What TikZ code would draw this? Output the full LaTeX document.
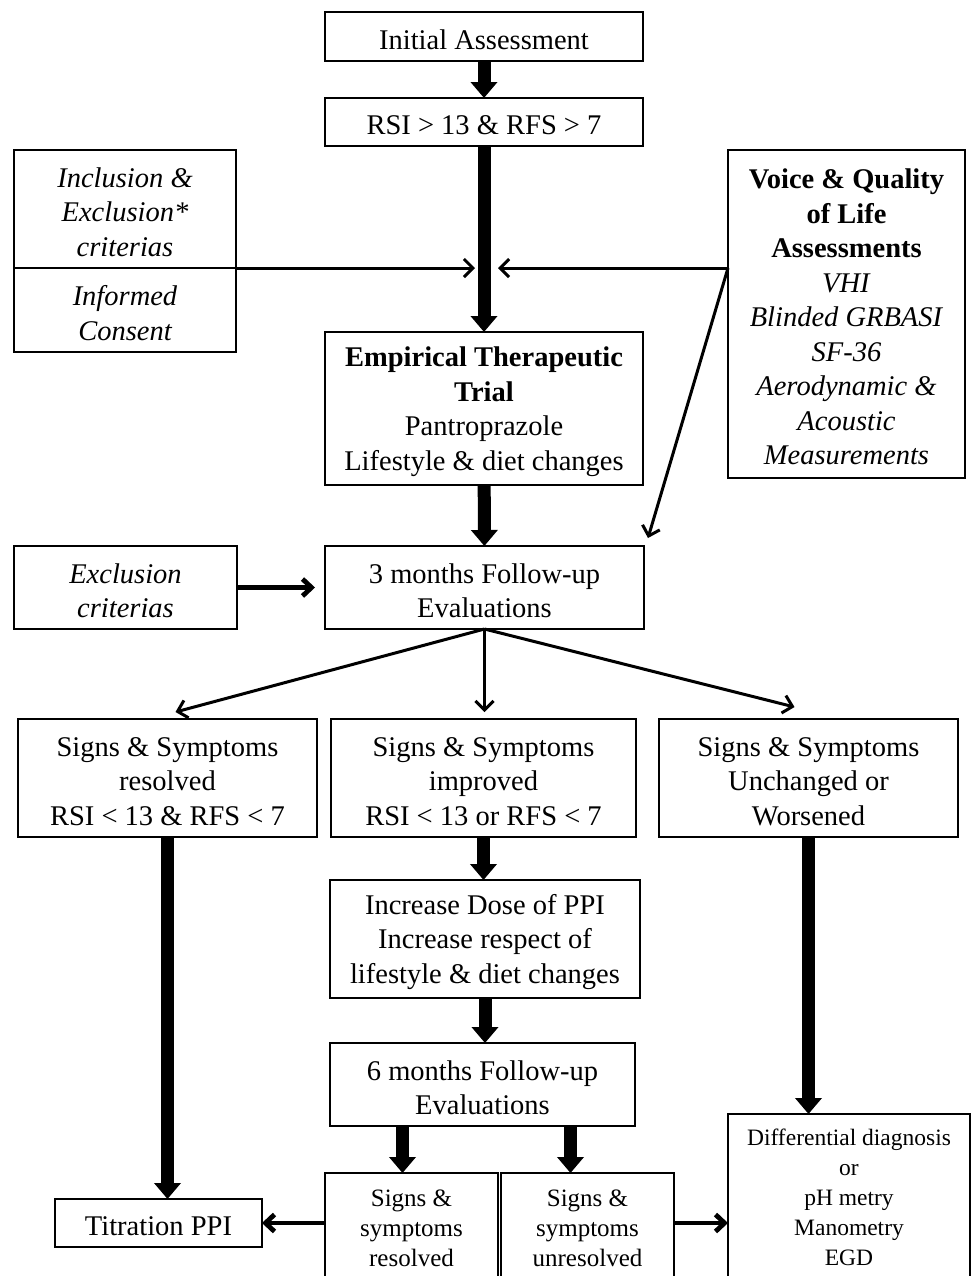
\documentclass[tikz,border=0pt]{standalone}
\usepackage{fontspec}
\setmainfont{Liberation Serif}
\usetikzlibrary{arrows.meta,positioning}

\newcommand{\bodysize}{\fontsize{14.25pt}{17.25pt}\selectfont}
\newcommand{\lowsize}{\fontsize{12.5pt}{15pt}\selectfont}
\newcommand{\diffsize}{\fontsize{11.75pt}{15pt}\selectfont}
\newcommand{\topstrut}{\rule{0pt}{13pt}}

\begin{document}
\begin{tikzpicture}[
    x=0.5pt, y=-0.5pt,
    box/.style={rectangle, draw, line width=1pt, align=center, inner sep=2pt, outer sep=0pt, font=\bodysize},
    fatarrow/.style={-{Triangle[width=13pt,length=8pt]}, line width=6.5pt},
    thinarrow/.style={-{Straight Barb[width=9pt,length=4.5pt]}, line width=1.5pt},
    medarrow/.style={-{Straight Barb[width=8.5pt,length=4.5pt]}, line width=2.4pt}
]
\useasboundingbox (0,0) rectangle (971,1276);

% Main column
\node[box, minimum width=159pt, minimum height=24.5pt] (init) at (484,36.5) {\topstrut Initial Assessment};
\node[box, minimum width=159pt, minimum height=24pt] (rsi) at (484,122) {\topstrut RSI > 13 \& RFS > 7};
\node[box, minimum width=159pt, minimum height=76.5pt] (emp) at (484,408.5) {\topstrut\textbf{Empirical Therapeutic}\\\textbf{Trial}\\Pantroprazole\\Lifestyle \& diet changes};
\node[box, minimum width=159.5pt, minimum height=41.5pt] (three) at (484.5,587.5) {\topstrut 3 months Follow-up\\Evaluations};

% Side boxes
\node[box, font=\bodysize\itshape, minimum width=111pt, minimum height=59pt] (incl) at (125,209) {\topstrut Inclusion \&\\Exclusion*\\criterias};
\node[box, font=\bodysize\itshape, minimum width=111pt, minimum height=42pt] (cons) at (125,310) {\topstrut Informed\\Consent};
\node[box, font=\bodysize\itshape, minimum width=111.5pt, minimum height=41.5pt] (excl) at (125.5,587.5) {\topstrut Exclusion\\criterias};
\node[box, minimum width=118.5pt, minimum height=164pt] (voice) at (846.5,314) {\topstrut\textbf{Voice \& Quality}\\\textbf{of Life}\\\textbf{Assessments}\\\textit{VHI}\\\textit{Blinded GRBASI}\\\textit{SF-36}\\\textit{Aerodynamic \&}\\\textit{Acoustic}\\\textit{Measurements}};

% Outcomes at 3 months
\node[box, minimum width=149.5pt, minimum height=59pt] (res) at (167.5,778) {\topstrut Signs \& Symptoms\\resolved\\RSI < 13 \& RFS < 7};
\node[box, minimum width=152.5pt, minimum height=59pt] (imp) at (483.5,778) {\topstrut Signs \& Symptoms\\improved\\RSI < 13 or RFS < 7};
\node[box, minimum width=149.5pt, minimum height=59pt] (unch) at (808.5,778) {\topstrut Signs \& Symptoms\\Unchanged or\\Worsened};

% Second step
\node[box, minimum width=155pt, minimum height=59pt] (incr) at (485,939) {\topstrut Increase Dose of PPI\\Increase respect of\\lifestyle \& diet changes};
\node[box, minimum width=152.5pt, minimum height=41.5pt] (six) at (482.5,1084.5) {\topstrut 6 months Follow-up\\Evaluations};

% Outcomes at 6 months
\node[box, font=\lowsize, minimum width=86.5pt, minimum height=55pt] (sres) at (411.5,1228) {Signs \&\\symptoms\\resolved};
\node[box, font=\lowsize, minimum width=86.5pt, minimum height=55pt] (sunr) at (587.5,1228) {Signs \&\\symptoms\\unresolved};
\node[box, minimum width=103.5pt, minimum height=24pt] (titr) at (158.5,1223) {\topstrut Titration PPI};
\node[box, font=\diffsize, minimum width=121pt, minimum height=83pt] (diff) at (849,1197) {Differential diagnosis\\or\\pH metry\\Manometry\\EGD};

% Arrows
\draw[fatarrow] (init) -- (rsi);
\draw[fatarrow] (rsi) -- (emp);
\draw[fatarrow] (emp) -- (three);

\coordinate (join) at (rsi.south |- cons.north);
\draw[thinarrow] (incl.south east) -- ([xshift=-4.5pt]join);
\draw[thinarrow] (voice.west |- join) -- ([xshift=7pt]join);
\draw[thinarrow] (voice.west |- join) -- ([shift={(2pt,4pt)}]three.north east);
\draw[medarrow] (excl) -- ([xshift=-5pt]three.west);

\draw[thinarrow] (three.south) -- ([shift={(4pt,3.5pt)}]res.north);
\draw[thinarrow] (three.south) -- ([yshift=3.5pt]three.south |- imp.north);
\draw[thinarrow] (three.south) -- ([shift={(-7pt,6pt)}]unch.north);

\draw[fatarrow] (res.south) -- (res.south |- titr.north);
\draw[fatarrow] (imp.south) -- (imp.south |- incr.north);
\draw[fatarrow] (incr.south) -- (incr.south |- six.north);
\draw[fatarrow] ([xshift=-40pt]six.south) -- ([xshift=-40pt]six.south |- sres.north);
\draw[fatarrow] ([xshift=44pt]six.south) -- ([xshift=44pt]six.south |- sunr.north);
\draw[fatarrow] (unch.south) -- (unch.south |- diff.north);

\draw[medarrow] (sres.west |- titr) -- (titr.east);
\draw[medarrow] (sunr.east |- titr) -- (diff.west |- titr);

\end{tikzpicture}
\end{document}
